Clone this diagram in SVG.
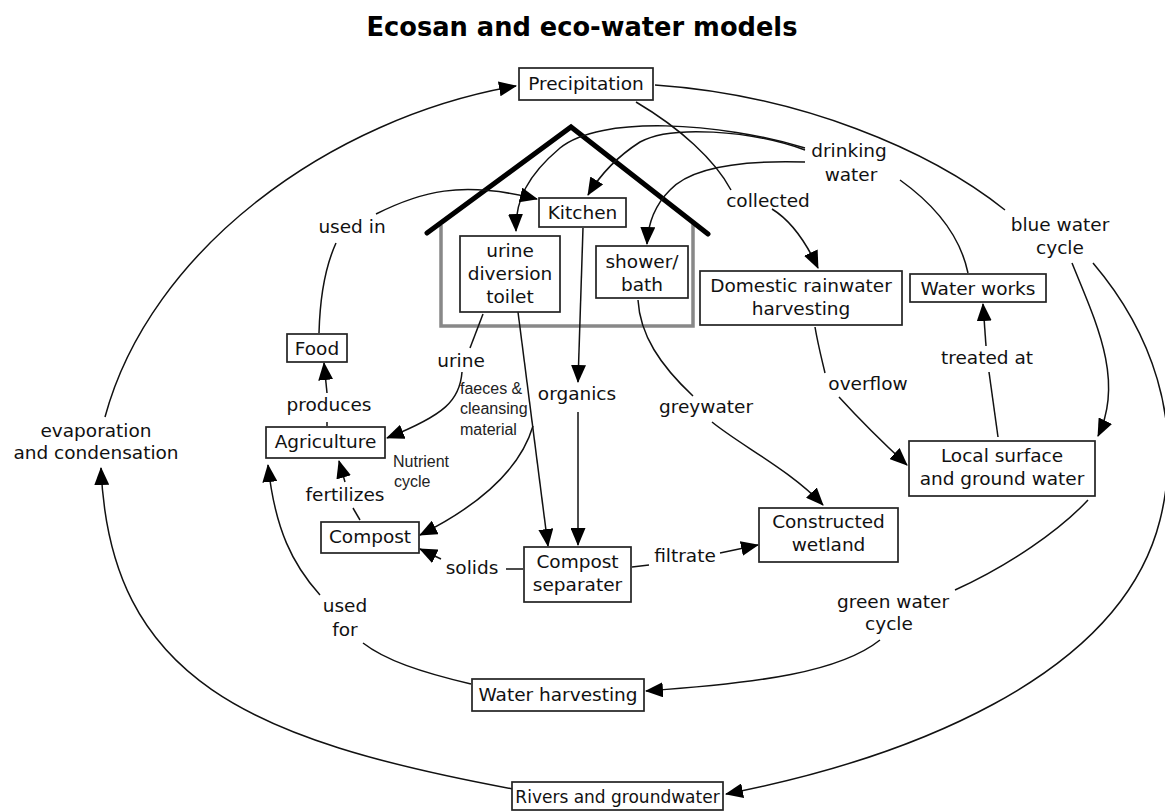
<svg xmlns="http://www.w3.org/2000/svg" width="1165" height="811" viewBox="0 0 1165 811">
  <defs>
    <marker id="arrow" viewBox="0 0 18 15" refX="17" refY="7.5" markerWidth="18" markerHeight="15" markerUnits="userSpaceOnUse" orient="auto">
      <path d="M0,0 L18,7.5 L0,15 z" fill="#000"/>
    </marker>
    <style>
      .box { fill: #fff; stroke: #222; stroke-width: 1.7; }
      .t { font-family: "DejaVu Sans", Verdana, sans-serif; font-size: 18.5px; fill: #111; text-anchor: middle; }
      .s { font-family: "Liberation Sans", Arial, sans-serif; font-size: 16px; fill: #222; }
      .title { font-family: "DejaVu Sans", Verdana, sans-serif; font-size: 25.7px; font-weight: bold; fill: #000; text-anchor: middle; }
      .ln { fill: none; stroke: #111; stroke-width: 1.5; }
      .ar { marker-end: url(#arrow); }
    </style>
  </defs>
  <rect width="1165" height="811" fill="#fff"/>

  <text class="title" x="582" y="36">Ecosan and eco-water models</text>

  <!-- house outline -->
  <g id="house">
    <polyline points="441,225 441,326 693,326 693,222" fill="none" stroke="#888" stroke-width="3.5"/>
    <polyline points="427,233 571,127 708,234" fill="none" stroke="#000" stroke-width="5" stroke-linecap="round" stroke-linejoin="miter"/>
  </g>

  <!-- connectors -->
  <g id="connectors">
    <path class="ln ar" d="M513,789 C250,740 110,680 101,468"/>
    <path class="ln ar" d="M105,417 C150,250 330,118 516,86"/>
    <path class="ln" d="M655,85 C800,95 930,150 1005,210"/>
    <path class="ln ar" d="M1072,263 C1095,320 1125,380 1098,436"/>
    <path class="ln ar" d="M1093,263 C1150,330 1185,420 1160,520 C1120,680 900,760 726,794"/>
    <path class="ln" d="M636,102 C680,128 715,160 731,190"/>
    <path class="ln ar" d="M772,209 C790,220 805,240 818,268"/>
    <path class="ln ar" d="M805,148 C720,122 600,115 560,148 C528,175 515,200 516,231"/>
    <path class="ln ar" d="M805,150 C750,130 670,125 640,142 C615,158 600,175 588,195"/>
    <path class="ln ar" d="M805,162 C740,160 690,168 670,190 C655,205 648,222 647,244"/>
    <path class="ln" d="M900,180 C935,205 960,235 968,273"/>
    <path class="ln ar" d="M583,228 L578,382"/>
    <path class="ln ar" d="M578,412 L578,545"/>
    <path class="ln" d="M483,314 L470,348"/>
    <path class="ln ar" d="M462,372 C460,400 445,415 387,438"/>
    <path class="ln ar" d="M518,312 L548,546"/>
    <path class="ln ar" d="M533,426 C520,470 480,505 420,535"/>
    <path class="ln" d="M638,300 C640,335 660,365 693,396"/>
    <path class="ln ar" d="M712,422 C740,445 790,470 823,505"/>
    <path class="ln" d="M815,327 C818,345 822,360 825,373"/>
    <path class="ln ar" d="M839,397 C860,420 880,440 907,465"/>
    <path class="ln" d="M998,437 L989,372"/>
    <path class="ln ar" d="M986,346 L983,304"/>
    <path class="ln" d="M1088,500 C1060,530 1010,565 955,590"/>
    <path class="ln ar" d="M880,640 C840,672 760,683 646,691"/>
    <path class="ln" d="M471,684 C420,672 385,660 363,643"/>
    <path class="ln ar" d="M320,595 C293,565 275,530 268,465"/>
    <path class="ln" d="M360,520 L353,508"/>
    <path class="ln ar" d="M345,482 L339,461"/>
    <path class="ln" d="M327,422 L327,426"/>
    <path class="ln ar" d="M327,393 L324,363"/>
    <path class="ln" d="M319,333 C320,295 326,265 336,243"/>
    <path class="ln ar" d="M376,214 C420,192 460,180 537,199"/>
    <path class="ln" d="M523,569 L506,569"/>
    <path class="ln ar" d="M441,559 L420,549"/>
    <path class="ln" d="M632,567 L649,565"/>
    <path class="ln ar" d="M720,553 L758,545"/>
  </g>

  <!-- nodes -->
  <g id="precipitation">
    <rect class="box" x="519" y="68" width="134" height="32"/>
    <text class="t" x="586" y="90">Precipitation</text>
  </g>
  <g id="kitchen">
    <rect class="box" x="539" y="198" width="87" height="29"/>
    <text class="t" x="582.5" y="219">Kitchen</text>
  </g>
  <g id="toilet">
    <rect class="box" x="460" y="236" width="100" height="76"/>
    <text class="t" x="510" y="257">urine</text>
    <text class="t" x="510" y="280">diversion</text>
    <text class="t" x="510" y="303">toilet</text>
  </g>
  <g id="shower">
    <rect class="box" x="596" y="246" width="92" height="52"/>
    <text class="t" x="642" y="268">shower/</text>
    <text class="t" x="642" y="291">bath</text>
  </g>
  <g id="rainwater-harvesting">
    <rect class="box" x="700" y="271" width="202" height="54"/>
    <text class="t" x="801" y="292">Domestic rainwater</text>
    <text class="t" x="801" y="315">harvesting</text>
  </g>
  <g id="water-works">
    <rect class="box" x="910" y="274" width="136" height="28"/>
    <text class="t" x="978" y="295">Water works</text>
  </g>
  <g id="local-water">
    <rect class="box" x="909" y="441" width="186" height="55"/>
    <text class="t" x="1002" y="462">Local surface</text>
    <text class="t" x="1002" y="485">and ground water</text>
  </g>
  <g id="wetland">
    <rect class="box" x="759" y="508" width="139" height="54"/>
    <text class="t" x="828.5" y="528">Constructed</text>
    <text class="t" x="828.5" y="551">wetland</text>
  </g>
  <g id="separater">
    <rect class="box" x="524" y="547" width="107" height="55"/>
    <text class="t" x="577.5" y="568">Compost</text>
    <text class="t" x="577.5" y="591">separater</text>
  </g>
  <g id="compost">
    <rect class="box" x="321" y="522" width="98" height="31"/>
    <text class="t" x="370" y="543">Compost</text>
  </g>
  <g id="agriculture">
    <rect class="box" x="266" y="427" width="119" height="31"/>
    <text class="t" x="325.5" y="448">Agriculture</text>
  </g>
  <g id="food">
    <rect class="box" x="287" y="334" width="60" height="28"/>
    <text class="t" x="317" y="355">Food</text>
  </g>
  <g id="water-harvesting">
    <rect class="box" x="472" y="679" width="172" height="32"/>
    <text class="t" x="558" y="701">Water harvesting</text>
  </g>
  <g id="rivers">
    <rect class="box" x="512" y="782" width="211" height="28"/>
    <text class="t" x="617.5" y="803" style="font-size:17px">Rivers and groundwater</text>
  </g>

  <!-- connector labels -->
  <g id="labels">
    <text class="t" x="849" y="157">drinking</text>
    <text class="t" x="851" y="181">water</text>
    <text class="t" x="768" y="207">collected</text>
    <text class="t" x="1060" y="231">blue water</text>
    <text class="t" x="1060" y="254">cycle</text>
    <text class="t" x="352" y="233">used in</text>
    <text class="t" x="461" y="367">urine</text>
    <text class="s" x="460" y="394">faeces &amp;</text>
    <text class="s" x="460" y="414">cleansing</text>
    <text class="s" x="460" y="435">material</text>
    <text class="t" x="577" y="400">organics</text>
    <text class="t" x="706" y="413">greywater</text>
    <text class="t" x="868" y="390">overflow</text>
    <text class="t" x="987" y="364">treated at</text>
    <text class="t" x="329" y="411">produces</text>
    <text class="s" x="393" y="467">Nutrient</text>
    <text class="s" x="394" y="487">cycle</text>
    <text class="t" x="345" y="501">fertilizes</text>
    <text class="t" x="472" y="574">solids</text>
    <text class="t" x="685" y="562">filtrate</text>
    <text class="t" x="345" y="612">used</text>
    <text class="t" x="345" y="636">for</text>
    <text class="t" x="893" y="608">green water</text>
    <text class="t" x="889" y="630">cycle</text>
    <text class="t" x="96" y="437">evaporation</text>
    <text class="t" x="96" y="459">and condensation</text>
  </g>
</svg>
